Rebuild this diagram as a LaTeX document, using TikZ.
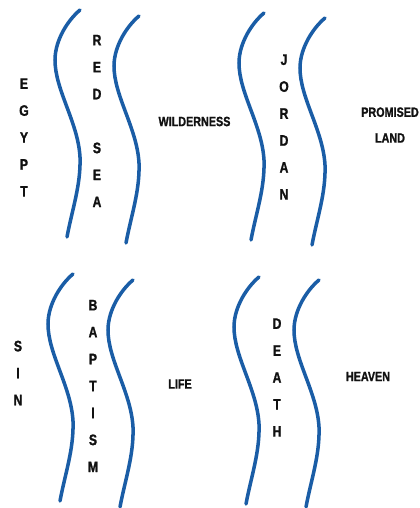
\documentclass[tikz,border=0pt]{standalone}
\usepackage{fontspec}
\newfontfamily\lblfont{Liberation Sans}[FakeStretch=0.8, FakeBold=1.2]
\usepackage{xcolor}
\definecolor{criver}{HTML}{1A5DA6}
\definecolor{ctext} {HTML}{111111}

\begin{document}
\begin{tikzpicture}[
  x=0.03cm, y=-0.03cm,
  bank/.pic   = {\draw[line width=3pt, color=criver, line cap=round]
                   (0,0) .. controls (-12,10) and (-25,30) .. (-25,50)
                         .. controls (-25,80) and (-2,112) .. (0,147)
                         .. controls (1,175) and (-8,200) .. (-13,227);},
  vlbl/.style = {align=center, inner sep=0pt, text=ctext,
                 font=\lblfont\bfseries\fontsize{13}{23}\selectfont},
  hlbl/.style = {align=center, inner sep=0pt, text=ctext,
                 font=\lblfont\bfseries\fontsize{11.5}{22}\selectfont}
]
\useasboundingbox (0,0) rectangle (419,508);
\clip (0,0) rectangle (419,508);

%% ── River banks ───────────────────────────────────────────────────────────
\pic (redseaL)  at (80,10)   {bank};
\pic (redseaR)  at (139,16)  {bank};
\pic (jordanL)  at (264,13)  {bank};
\pic (jordanR)  at (325,18)  {bank};
\pic (baptismL) at (73,274)  {bank};
\pic (baptismR) at (133,280) {bank};
\pic (deathL)   at (259,277) {bank};
\pic (deathR)   at (319,280) {bank};

%% ── Top row ───────────────────────────────────────────────────────────────
\node[vlbl] (egypt)    at (24,137.5)  {E\\G\\Y\\P\\T};
\node[vlbl] (redsea)   at (97,121)    {R\\E\\D\\[23pt]S\\E\\A};
\node[hlbl] (wild)     at (194.5,121.5) {WILDERNESS};
\node[vlbl] (jordan)   at (284,127)   {J\\O\\R\\D\\A\\N};
\node[hlbl] (promised) at (390,125)   {PROMISED\\LAND};

%% ── Bottom row ────────────────────────────────────────────────────────────
\node[vlbl] (sin)      at (18,373)    {S\\I\\N};
\node[vlbl] (baptism)  at (93,386)    {B\\A\\P\\T\\I\\S\\M};
\node[hlbl] (life)     at (180,384)   {LIFE};
\node[vlbl] (death)    at (277,377.5) {D\\E\\A\\T\\H};
\node[hlbl] (heaven)   at (368,376.5) {HEAVEN};

\end{tikzpicture}
\end{document}
